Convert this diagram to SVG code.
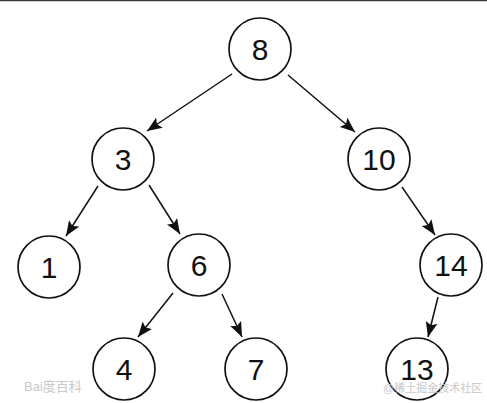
<svg xmlns="http://www.w3.org/2000/svg" width="487" height="403" viewBox="0 0 487 403">
<defs>
<marker id="arr" markerUnits="userSpaceOnUse" markerWidth="16" markerHeight="12" viewBox="0 0 16 12" refX="15" refY="6" orient="auto">
<path d="M0,0 L15,6 L0,12 L3,6 Z" fill="#111"/>
</marker>
<style>
.node circle{fill:#fff;stroke:#111;stroke-width:1.7}
.node text{font-family:"Liberation Sans",Arial,sans-serif;font-size:30px;fill:#111;text-anchor:middle}
#edges line{stroke:#111;stroke-width:1.5;marker-end:url(#arr)}
.wm{font-family:"Liberation Sans","Noto Sans CJK SC",sans-serif;fill:#c8c8c8}
</style>
</defs>
<rect width="487" height="403" fill="#fff"/>
<line x1="0" y1="0.5" x2="487" y2="0.5" stroke="#3a3a3a" stroke-width="1.5"/>
<g id="edges">
<line x1="232" y1="74" x2="147" y2="131"/>
<line x1="288" y1="75" x2="355" y2="132"/>
<line x1="98" y1="186" x2="66" y2="236"/>
<line x1="149" y1="185" x2="180" y2="234"/>
<line x1="402" y1="187" x2="435" y2="235"/>
<line x1="173" y1="293" x2="138" y2="337"/>
<line x1="222" y1="294" x2="242" y2="337"/>
<line x1="438" y1="297" x2="428" y2="337"/>
</g>
<g id="n8" class="node"><circle cx="260" cy="49" r="31"/><text x="260" y="60">8</text></g>
<g id="n3" class="node"><circle cx="123" cy="159" r="31"/><text x="123" y="170">3</text></g>
<g id="n10" class="node"><circle cx="379" cy="159" r="31"/><text x="379" y="170">10</text></g>
<g id="n1" class="node"><circle cx="49" cy="267" r="31"/><text x="49" y="278">1</text></g>
<g id="n6" class="node"><circle cx="199" cy="265" r="31"/><text x="199" y="276">6</text></g>
<g id="n14" class="node"><circle cx="451" cy="265" r="31"/><text x="451" y="276">14</text></g>
<g id="n4" class="node"><circle cx="124" cy="369" r="31"/><text x="124" y="380">4</text></g>
<g id="n7" class="node"><circle cx="256" cy="369" r="31"/><text x="256" y="380">7</text></g>
<g id="n13" class="node"><circle cx="417" cy="369" r="31"/><text x="417" y="380">13</text></g>
<text class="wm" x="24" y="391" font-size="13">Bai度百科</text>
<text class="wm" x="383" y="392" font-size="11">@稀土掘金技术社区</text>
</svg>
